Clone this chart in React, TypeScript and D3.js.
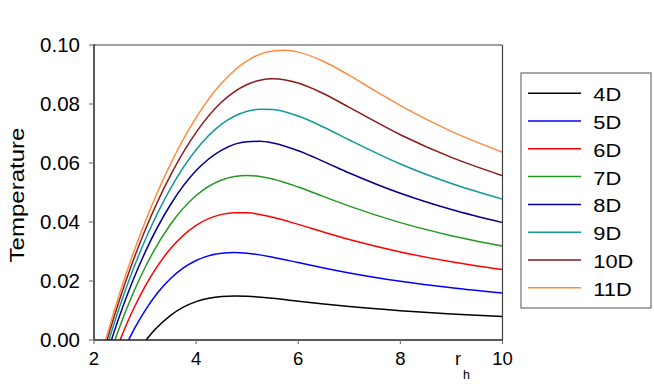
import React from "react";
import * as d3 from "d3";

// r_h tick values and labels
const xTicks = [2, 4, 6, 8, 10];
const yTicks = [0, 0.02, 0.04, 0.06, 0.08, 0.1];
const seriesNames = ["4D", "5D", "6D", "7D", "8D", "9D", "10D", "11D"];
const seriesColors = ["#000000", "#0000FF", "#FF0000", "#229922", "#00008B", "#119999", "#8B1A1A", "#FF8C42"];

// [r_h, Temperature] pairs
const t4D: [number, number][] = [
  [3.022, 0], [3.1, 0.00167], [3.2, 0.00363], [3.5, 0.00836], [3.75, 0.01112], [4, 0.013], [4.25, 0.01416],
  [4.5, 0.01476], [4.75, 0.01494], [5, 0.01483], [5.5, 0.01412], [6, 0.01316], [6.5, 0.01222], [7, 0.01136],
  [8, 0.00995], [9, 0.00884], [10, 0.00796],
];
const t5D: [number, number][] = [
  [2.678, 0], [2.8, 0.00409], [3, 0.00999], [3.25, 0.01608], [3.5, 0.02085], [3.75, 0.02443], [4, 0.02695],
  [4.5, 0.0294], [4.75, 0.02963], [5, 0.0294], [5.5, 0.02807], [6, 0.02626], [6.5, 0.02441], [7, 0.02272],
  [8, 0.01989], [9, 0.01768], [10, 0.01592],
];
const t6D: [number, number][] = [
  [2.51, 0], [2.55, 0.00171], [2.75, 0.00965], [3, 0.01816], [3.5, 0.031], [4, 0.03889], [4.5, 0.04259],
  [4.75, 0.04317], [5, 0.0431], [5.5, 0.04161], [6, 0.03919], [6.5, 0.03656], [7, 0.03406], [8, 0.02984],
  [9, 0.02653], [10, 0.02387],
];
const t7D: [number, number][] = [
  [2.409, 0], [2.45, 0.00199], [2.75, 0.01524], [3, 0.02459], [3.5, 0.03923], [4, 0.04897], [4.5, 0.05424],
  [4.75, 0.05541], [5, 0.05575], [5.25, 0.05542], [5.5, 0.05456], [6, 0.05185], [6.5, 0.0486], [7, 0.04537],
  [8, 0.03978], [9, 0.03537], [10, 0.03183],
];
const t8D: [number, number][] = [
  [2.341, 0], [2.5, 0.00815], [2.75, 0.01966], [3, 0.0297], [3.5, 0.04593], [4, 0.05742], [4.5, 0.06439],
  [5, 0.06724], [5.25, 0.06735], [5.5, 0.06677], [6, 0.06414], [6.5, 0.06048], [7, 0.05663], [8, 0.04973],
  [9, 0.04421], [10, 0.03979],
];
const t9D: [number, number][] = [
  [2.293, 0], [2.5, 0.01119], [2.75, 0.0232], [3, 0.03382], [3.5, 0.0514], [4, 0.06448], [4.5, 0.07315],
  [5, 0.07753], [5.25, 0.07825], [5.5, 0.07812], [6, 0.07592], [6.5, 0.07213], [7, 0.0678], [8, 0.05966],
  [9, 0.05305], [10, 0.04775],
];
const t10D: [number, number][] = [
  [2.256, 0], [2.3, 0.00258], [2.5, 0.01367], [2.75, 0.0261], [3, 0.0372], [3.5, 0.05592], [4, 0.0704],
  [4.5, 0.08066], [5, 0.08663], [5.25, 0.08806], [5.5, 0.08853], [5.75, 0.08817], [6, 0.0871], [6.5, 0.08347],
  [7, 0.07884], [8, 0.06958], [9, 0.06189], [10, 0.0557],
];
const t11D: [number, number][] = [
  [2.227, 0], [2.5, 0.01572], [2.75, 0.0285], [3, 0.03999], [3.5, 0.05969], [4, 0.07538], [4.5, 0.08709],
  [5, 0.09464], [5.5, 0.09798], [5.75, 0.09821], [6, 0.09758], [6.5, 0.0944], [7, 0.08969], [7.5, 0.0845],
  [8, 0.07948], [9, 0.07073], [10, 0.06366],
];
const allSeries = [t4D, t5D, t6D, t7D, t8D, t9D, t10D, t11D];

const W = 654;
const H = 387;
const left = 94;
const right = 502.5;
const top = 45;
const bottom = 340;
const FONT = "'Liberation Sans', Arial, sans-serif";

export default function App() {
  const x = d3.scaleLinear().domain([2, 10]).range([left, right]);
  const y = d3.scaleLinear().domain([0, 0.1]).range([bottom, top]);
  const line = d3
    .line<[number, number]>()
    .x((d) => x(d[0]))
    .y((d) => y(d[1]))
    .curve(d3.curveMonotoneX);

  const legX = 521;
  const legY = 73;
  const legW = 130;
  const legH = 235;
  const rowY0 = 93.3;
  const rowStep = 27.77;

  return (
    <svg
      width={W}
      height={H}
      style={{ position: "absolute", left: 0, top: 0, background: "#fff" }}
      fontFamily={FONT}
    >
      <rect x={0} y={0} width={W} height={H} fill="#fff" />
      {/* series */}
      <g fill="none" strokeWidth={1.5}>
        {allSeries.map((s, i) => (
          <path key={seriesNames[i]} d={line(s) || ""} stroke={seriesColors[i]} />
        ))}
      </g>
      {/* frame */}
      <line x1={left} x2={right} y1={top} y2={top} stroke="#808080" strokeWidth={1.5} />
      <line x1={right} x2={right} y1={top} y2={bottom} stroke="#404040" strokeWidth={1.2} />
      <line x1={left} x2={left} y1={top - 0.7} y2={bottom} stroke="#000" strokeWidth={1.3} />
      <line x1={left} x2={right} y1={bottom} y2={bottom} stroke="#222" strokeWidth={1.3} />
      {/* y ticks */}
      {yTicks.map((t) => (
        <g key={"y" + t}>
          <line x1={left - 5} x2={left} y1={y(t)} y2={y(t)} stroke="#777" strokeWidth={1.2} />
          <text x={80} y={y(t) + 7.3} textAnchor="end" fontSize={20.5} fill="#000">
            {d3.format(".2f")(t)}
          </text>
        </g>
      ))}
      {/* x ticks */}
      {xTicks.map((t) => (
        <g key={"x" + t}>
          <line x1={x(t)} x2={x(t)} y1={bottom} y2={bottom + 4} stroke="#777" strokeWidth={1.2} />
          <text x={x(t)} y={365} textAnchor="middle" fontSize={18.5} fill="#000">
            {t}
          </text>
        </g>
      ))}
      {/* axis titles */}
      <text x={455} y={365} fontSize={18.5} fill="#000">
        r
      </text>
      <text x={463} y={379} fontSize={12.5} fill="#000">
        h
      </text>
      <text
        transform={`translate(23.5,195) rotate(-90)`}
        textAnchor="middle"
        fontSize={20}
        textLength={135}
        lengthAdjust="spacingAndGlyphs"
        fill="#000"
      >
        Temperature
      </text>
      {/* legend */}
      <rect x={legX} y={legY} width={legW} height={legH} fill="#fff" stroke="#707070" strokeWidth={1.2} />
      {seriesNames.map((n, i) => {
        const ry = rowY0 + i * rowStep;
        return (
          <g key={"leg" + n}>
            <line x1={528} x2={581} y1={ry} y2={ry} stroke={seriesColors[i]} strokeWidth={1.5} />
            <text transform={`translate(593.3,${ry + 8}) scale(1.15,1)`} fontSize={19} fill="#000">
              {n}
            </text>
          </g>
        );
      })}
    </svg>
  );
}
